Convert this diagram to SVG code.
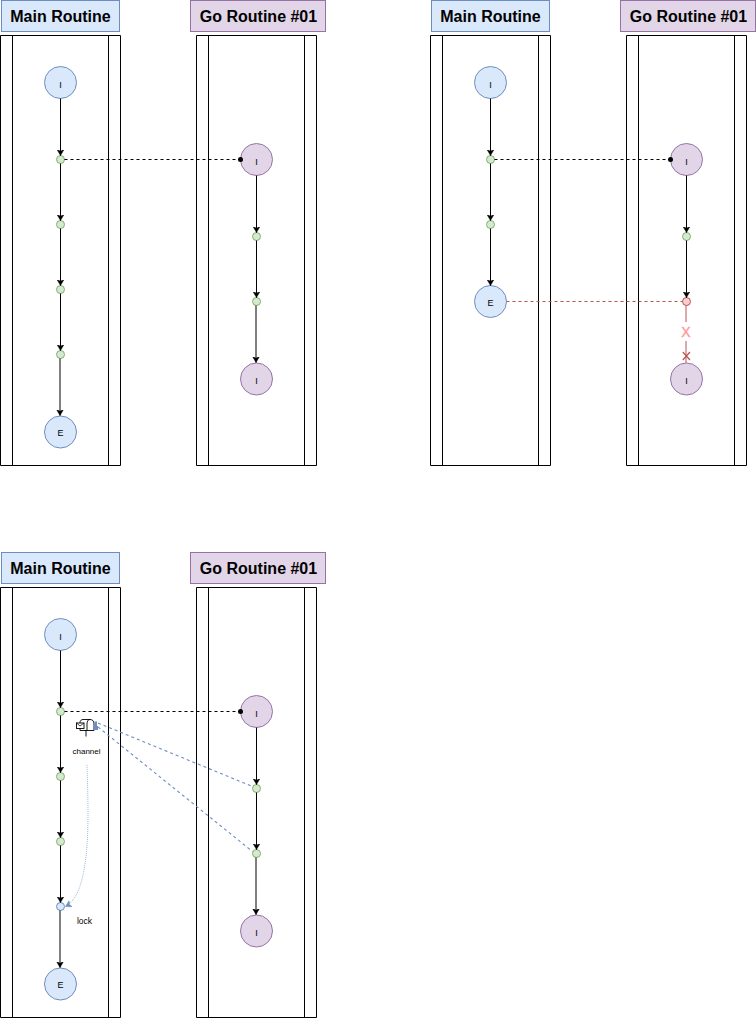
<svg xmlns="http://www.w3.org/2000/svg" xmlns:xlink="http://www.w3.org/1999/xlink" width="756" height="1018" viewBox="0 0 756 1018">
<style>
text{font-family:"Liberation Sans",Arial,sans-serif;text-anchor:middle;fill:#000;opacity:.99}
.h{font-size:16px;font-weight:bold}
.t{font-size:9px}
.l{font-size:8.5px}
.hb{fill:#dae8fc;stroke:#6c8ebf}
.hp{fill:#e1d5e7;stroke:#9673a6}
.lane{fill:#fff;stroke:#000}
.g{fill:#d5e8d4;stroke:#82b366}
.b{fill:#dae8fc;stroke:#6c8ebf}
.p{fill:#e1d5e7;stroke:#9673a6}
.r{fill:#f8cecc;stroke:#b85450}
.c{fill:none;stroke:#000;stroke-width:1}
.d{fill:none;stroke:#000;stroke-dasharray:3 3}
.bd{fill:none;stroke:#6c8ebf;stroke-dasharray:3 3;stroke-width:1.100}
</style>
<defs>
<marker id="a" markerWidth="8" markerHeight="8" refX="6" refY="3.500" orient="auto" markerUnits="userSpaceOnUse"><path d="M0 0L6 3.500L0 7L1.700 3.500Z" fill="#000" stroke="#000" stroke-width=".5"/></marker>
<marker id="ab" markerWidth="8" markerHeight="8" refX="6" refY="3.500" orient="auto" markerUnits="userSpaceOnUse"><path d="M0 0L6 3.500L0 7L1.700 3.500Z" fill="#6c8ebf" stroke="#6c8ebf" stroke-width=".5"/></marker>
<marker id="o" markerWidth="6" markerHeight="6" refX="3" refY="3" orient="auto" markerUnits="userSpaceOnUse"><circle cx="3" cy="3" r="2.500" fill="#000"/></marker>
<g id="lanes">
<path class="lane" d="M.5 35.500H120.500V465.500H.5ZM12.500 35.500V465.500M108.500 35.500V465.500"/>
<path class="lane" d="M196.500 35.500H316.500V465.500H196.500ZM208.500 35.500V465.500M304.500 35.500V465.500"/>
<rect class="hb" x="1.500" y=".5" width="118" height="31"/>
<rect class="hp" x="190.500" y=".5" width="135" height="31"/>
<text class="h" x="60.500" y="21.500">Main Routine</text>
<text class="h" x="258.500" y="21.500">Go Routine #01</text>
</g>
</defs>

<g id="panel-1">
<use xlink:href="#lanes" href="#lanes"/>
<g id="p1-n1"><circle class="b" cx="60.500" cy="82.500" r="16"/><text class="t" x="60.500" y="88">I</text></g>
<g id="p1-n2"><circle class="g" cx="60.500" cy="159.500" r="4"/></g>
<g id="p1-n3"><circle class="g" cx="60.500" cy="224.500" r="4"/></g>
<g id="p1-n4"><circle class="g" cx="60.500" cy="289.500" r="4"/></g>
<g id="p1-n5"><circle class="g" cx="60.500" cy="354.500" r="4"/></g>
<g id="p1-n6"><circle class="b" cx="60.500" cy="432" r="16"/><text class="t" x="60.500" y="436">E</text></g>
<g id="p1-n7"><circle class="p" cx="256.500" cy="159.500" r="16"/><text class="t" x="256.500" y="165">I</text></g>
<g id="p1-n8"><circle class="g" cx="256.500" cy="236.500" r="4"/></g>
<g id="p1-n9"><circle class="g" cx="256.500" cy="301.500" r="4"/></g>
<g id="p1-n10"><circle class="p" cx="256.500" cy="379" r="16"/><text class="t" x="256.500" y="384">I</text></g>
<g id="p1-connectors">
<path class="c" marker-end="url(#a)" d="M60.500 98.500V155.500"/>
<path class="c" marker-end="url(#a)" d="M60.500 163.500V220.500"/>
<path class="c" marker-end="url(#a)" d="M60.500 228.500V285.500"/>
<path class="c" marker-end="url(#a)" d="M60.500 293.500V350.500"/>
<path class="c" marker-end="url(#a)" d="M60 358.500V415.500"/>
<path class="c" marker-end="url(#a)" d="M256.500 175.500V232.500"/>
<path class="c" marker-end="url(#a)" d="M256.500 240.500V297.500"/>
<path class="c" marker-end="url(#a)" d="M256 305.500V362.500"/>
<path class="d" marker-end="url(#o)" d="M64.500 159.500H240.500"/>
</g>
</g>

<g id="panel-2" transform="translate(430 0)">
<use xlink:href="#lanes" href="#lanes"/>
<g id="p2-n1"><circle class="b" cx="60.500" cy="82.500" r="16"/><text class="t" x="60.500" y="88">I</text></g>
<g id="p2-n2"><circle class="g" cx="60.500" cy="159.500" r="4"/></g>
<g id="p2-n3"><circle class="g" cx="60.500" cy="224.500" r="4"/></g>
<g id="p2-n4"><circle class="b" cx="60.500" cy="301.500" r="16"/><text class="t" x="60.500" y="306">E</text></g>
<g id="p2-n5"><circle class="p" cx="256.500" cy="159.500" r="16"/><text class="t" x="256.500" y="165">I</text></g>
<g id="p2-n6"><circle class="g" cx="256.500" cy="236.500" r="4"/></g>
<g id="p2-n7"><circle class="r" cx="256.500" cy="301.500" r="4"/></g>
<g id="p2-n8"><circle class="p" cx="256.500" cy="379" r="16"/><text class="t" x="256.500" y="384">I</text></g>
<g id="p2-connectors">
<path class="c" marker-end="url(#a)" d="M60.500 98.500V155.500"/>
<path class="c" marker-end="url(#a)" d="M60.500 163.500V220.500"/>
<path class="c" marker-end="url(#a)" d="M60.500 228.500V285.500"/>
<path class="c" marker-end="url(#a)" d="M256.500 175.500V232.500"/>
<path class="c" marker-end="url(#a)" d="M256.500 240.500V297.500"/>
<path class="d" marker-end="url(#o)" d="M64.500 159.500H240.500"/>
<path fill="none" stroke="#b85450" stroke-dasharray="3 3" d="M76.500 301.500H252.500"/>
<path fill="none" stroke="#b85450" d="M256 305.500V363"/>
<path fill="none" stroke="#b85450" stroke-width="1.200" d="M252.800 352L260 360M260 352L252.800 360"/>
<rect x="250" y="322" width="13" height="19" fill="#fff"/>
<text x="256" y="337" font-size="14" stroke="#ff9999" stroke-width=".4" style="fill:#ff9999">X</text>
</g>
</g>

<g id="panel-3" transform="translate(0 552)">
<use xlink:href="#lanes" href="#lanes"/>
<g id="p3-n1"><circle class="b" cx="60.500" cy="82.500" r="16"/><text class="t" x="60.500" y="88">I</text></g>
<g id="p3-n2"><circle class="g" cx="60.500" cy="159.500" r="4"/></g>
<g id="p3-n3"><circle class="g" cx="60.500" cy="224.500" r="4"/></g>
<g id="p3-n4"><circle class="g" cx="60.500" cy="289.500" r="4"/></g>
<g id="p3-n5"><circle class="b" cx="60.500" cy="354.500" r="4"/></g>
<g id="p3-n6"><circle class="b" cx="60.500" cy="432" r="16"/><text class="t" x="60.500" y="436">E</text></g>
<g id="p3-n7"><circle class="p" cx="256.500" cy="159.500" r="16"/><text class="t" x="256.500" y="165">I</text></g>
<g id="p3-n8"><circle class="g" cx="256.500" cy="236.500" r="4"/></g>
<g id="p3-n9"><circle class="g" cx="256.500" cy="301.500" r="4"/></g>
<g id="p3-n10"><circle class="p" cx="256.500" cy="379" r="16"/><text class="t" x="256.500" y="384">I</text></g>
<g id="p3-channel">
<path d="M80 178.500V170.500C80 168.500 81.500 167.500 83 167.500H90C92.500 167.500 94 169 94 172V178.500Z" fill="#fff" stroke="#000" stroke-width=".9"/>
<path d="M90 167.500C88 167.500 87 169.500 87 172V178.500" fill="none" stroke="#000" stroke-width=".9"/>
<rect x="76.500" y="171" width="7.500" height="5.500" fill="#fff" stroke="#000" stroke-width=".9"/>
<path d="M76.500 171L80 174L84 171" fill="none" stroke="#000" stroke-width=".7"/>
<path d="M86 178.500V184.500" stroke="#000" stroke-width=".9" fill="none"/>
<path d="M94.500 169.500H97V174H98V178H93.500V175L94.500 174Z" fill="#6c8ebf"/>
<text class="l" x="86.500" y="202" style="font-size:8px">channel</text>
</g>
<g id="p3-lock"><text class="l" x="84.500" y="372">lock</text></g>
<g id="p3-connectors">
<path class="c" marker-end="url(#a)" d="M60.500 98.500V155.500"/>
<path class="c" marker-end="url(#a)" d="M60.500 163.500V220.500"/>
<path class="c" marker-end="url(#a)" d="M60.500 228.500V285.500"/>
<path class="c" marker-end="url(#a)" d="M60.500 293.500V350.500"/>
<path class="c" marker-end="url(#a)" d="M60 358.500V415.500"/>
<path class="c" marker-end="url(#a)" d="M256.500 175.500V232.500"/>
<path class="c" marker-end="url(#a)" d="M256.500 240.500V297.500"/>
<path class="c" marker-end="url(#a)" d="M256 305.500V362.500"/>
<path class="d" marker-end="url(#o)" d="M64.500 159.500H240.500"/>
<path class="bd" d="M98 171L252.500 234.500"/>
<path class="bd" d="M98 175L252.500 299.500"/>
<path fill="none" stroke="#a0b8dc" stroke-dasharray="1 1" marker-end="url(#ab)" d="M87 213C88 255 93 340 65.500 354.500"/>
</g>
</g>
</svg>
